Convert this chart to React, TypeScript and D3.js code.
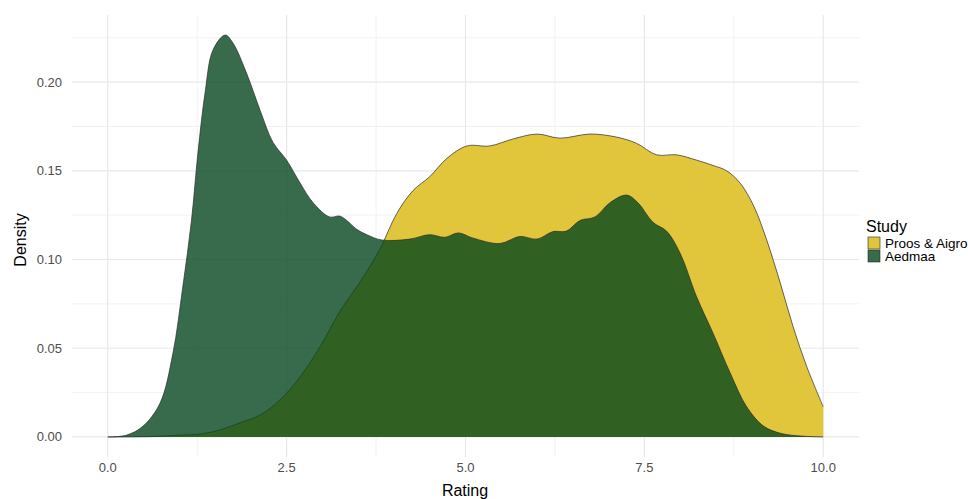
import React from 'react';
import * as d3 from 'd3';

const proosX = [0, 0.6, 1.0, 1.3, 1.57, 1.85, 2.13, 2.41, 2.69, 2.97, 3.24, 3.52, 3.71, 3.83, 4.04, 4.27, 4.5, 4.74, 5.02, 5.34, 5.67, 6.0, 6.32, 6.74, 7.11, 7.39, 7.67, 7.95, 8.23, 8.46, 8.65, 8.84, 9.03, 9.21, 9.4, 9.58, 9.77, 10.0]
const proosY = [0, 0.0002, 0.001, 0.0017, 0.004, 0.008, 0.0124, 0.021, 0.034, 0.051, 0.0705, 0.087, 0.0992, 0.108, 0.126, 0.139, 0.1467, 0.157, 0.164, 0.164, 0.168, 0.1707, 0.1684, 0.1707, 0.169, 0.1655, 0.159, 0.159, 0.156, 0.153, 0.15, 0.143, 0.13, 0.111, 0.0867, 0.062, 0.0396, 0.017]

const aedmaaX = [0, 0.26, 0.49, 0.73, 0.91, 1.05, 1.17, 1.26, 1.36, 1.47, 1.64, 1.75, 1.94, 2.13, 2.31, 2.5, 2.69, 2.87, 3.1, 3.24, 3.34, 3.48, 3.62, 3.83, 4.22, 4.5, 4.71, 4.9, 5.11, 5.48, 5.76, 6.0, 6.22, 6.41, 6.6, 6.81, 7.02, 7.25, 7.41, 7.62, 7.81, 8.0, 8.23, 8.46, 8.7, 8.93, 9.17, 9.41, 9.69, 10.0]
const aedmaaY = [0, 0.001, 0.006, 0.019, 0.047, 0.085, 0.122, 0.16, 0.194, 0.218, 0.2265, 0.222, 0.205, 0.184, 0.166, 0.156, 0.143, 0.132, 0.124, 0.1245, 0.122, 0.117, 0.114, 0.111, 0.1115, 0.114, 0.1125, 0.115, 0.112, 0.109, 0.113, 0.1115, 0.1157, 0.116, 0.122, 0.124, 0.132, 0.1363, 0.132, 0.121, 0.116, 0.1035, 0.079, 0.0585, 0.036, 0.017, 0.006, 0.002, 0.0005, 0]

const xTicks = [0, 2.5, 5, 7.5, 10]
const xMinor = [1.25, 3.75, 6.25, 8.75]
const yTicks = [0, 0.05, 0.1, 0.15, 0.2]
const yMinor = [0.025, 0.075, 0.125, 0.175, 0.225]

const studies = ['Proos & Aigro', 'Aedmaa']
const fills = ['#e1c53a', 'rgba(5,70,30,0.8)']

const font = '"Liberation Sans", Arial, sans-serif'

export default function App() {
  const x = d3.scaleLinear().domain([-0.5, 10.5]).range([72, 859])
  const y = d3.scaleLinear().domain([-0.0113, 0.2378]).range([457, 15])

  const series = [
    proosX.map((v, i) => [v, proosY[i]] as [number, number]),
    aedmaaX.map((v, i) => [v, aedmaaY[i]] as [number, number]),
  ]

  const curve = d3.curveCatmullRom.alpha(0.5)
  const area = d3.area<[number, number]>()
    .x(d => x(d[0]))
    .y0(y(0))
    .y1(d => y(Math.max(0, d[1])))
    .curve(curve)
  const line = d3.line<[number, number]>()
    .x(d => x(d[0]))
    .y(d => y(d[1]))
    .curve(curve)

  return (
    <svg width={968} height={499} style={{ position: 'absolute', left: 0, top: 0 }}>
      <rect width={968} height={499} fill='white' />
      {/* grid */}
      {yMinor.map(v => (
        <line key={'ym' + v} x1={72} x2={859} y1={y(v)} y2={y(v)} stroke='#f0f0f0' strokeWidth={0.9} />
      ))}
      {xMinor.map(v => (
        <line key={'xm' + v} x1={x(v)} x2={x(v)} y1={15} y2={457} stroke='#f0f0f0' strokeWidth={0.9} />
      ))}
      {yTicks.map(v => (
        <line key={'y' + v} x1={72} x2={859} y1={y(v)} y2={y(v)} stroke='#e8e8e8' strokeWidth={1.2} />
      ))}
      {xTicks.map(v => (
        <line key={'x' + v} x1={x(v)} x2={x(v)} y1={15} y2={457} stroke='#e8e8e8' strokeWidth={1.2} />
      ))}

      {/* densities */}
      {series.map((s, i) => (
        <g key={studies[i]}>
          <path d={area(s) ?? ''} fill={fills[i]} />
          <path d={line(s) ?? ''} fill='none' stroke='#2b2b2b' strokeWidth={0.7} />
        </g>
      ))}

      {/* axis labels */}
      {yTicks.map(v => (
        <text key={'yl' + v} x={62} y={y(v)} dy='0.35em' textAnchor='end' fontFamily={font} fontSize={13} fill='#4d4d4d'>
          {d3.format('.2f')(v)}
        </text>
      ))}
      {xTicks.map(v => (
        <text key={'xl' + v} x={x(v)} y={472} textAnchor='middle' fontFamily={font} fontSize={13} fill='#4d4d4d'>
          {d3.format('.1f')(v)}
        </text>
      ))}
      <text x={465} y={496} textAnchor='middle' fontFamily={font} fontSize={16} fill='#000'>Rating</text>
      <text transform='translate(26,240) rotate(-90)' textAnchor='middle' fontFamily={font} fontSize={16} fill='#000'>Density</text>

      {/* legend */}
      <text x={866} y={232} fontFamily={font} fontSize={16} fill='#000'>Study</text>
      {studies.map((s, i) => (
        <g key={'lg' + s}>
          <rect x={868} y={237 + i * 13} width={12} height={12} fill='white' />
          <rect x={868} y={237 + i * 13} width={12} height={12} fill={fills[i]} stroke='#2b2b2b' strokeWidth={0.6} />
          <text x={885} y={237 + i * 13 + 10.5} fontFamily={font} fontSize={13.5} fill='#000'>{s}</text>
        </g>
      ))}
    </svg>
  )
}
